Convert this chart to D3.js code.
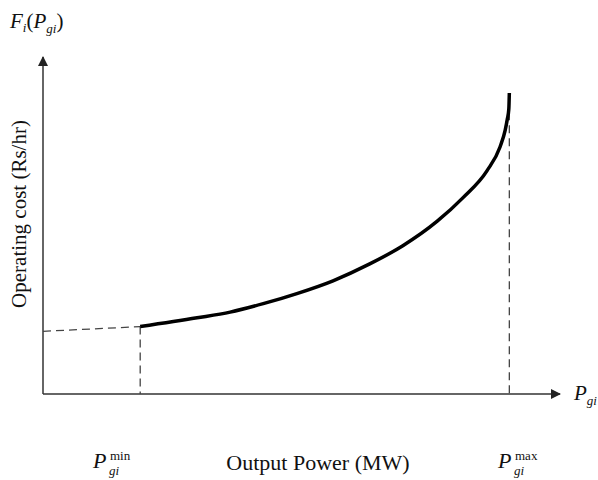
<!DOCTYPE html>
<html>
<head>
<meta charset="utf-8">
<script src="https://cdn.jsdelivr.net/npm/d3@7"></script>
<style>
  body { margin: 0; background: #fff; }
  text { font-family: "Liberation Serif", "Times New Roman", serif; fill: #111; }
</style>
</head>
<body>
<svg width="598" height="480"></svg>
<script>
  // cost curve, power and cost in relative units (0-100)
  const power = [18.8, 29.8, 36.2, 42.6, 49.1, 56.1, 63.2, 69.6, 76.2, 81.2, 85.9, 88.4, 89.4, 89.8, 90.1, 90.2];
  const cost  = [20.0, 22.6, 24.3, 26.8, 29.8, 33.6, 38.6, 44.0, 51.2, 58.2, 66.3, 73.3, 78.3, 81.5, 84.5, 89.3];
  const pMin = 18.8, pMax = 90.2;
  const belowMin = [[0, 18.6], [18.8, 20.0]];
  const maxDashTop = 87.5;

  const svg = d3.select('svg');
  const x = d3.scaleLinear().domain([0, 100]).range([43, 560]);
  const y = d3.scaleLinear().domain([0, 100]).range([394, 57]);

  svg.append('defs').append('marker')
      .attr('id', 'arr')
      .attr('viewBox', '0 0 10 10')
      .attr('refX', 9).attr('refY', 5)
      .attr('markerWidth', 10).attr('markerHeight', 10)
      .attr('markerUnits', 'userSpaceOnUse')
      .attr('orient', 'auto')
    .append('path')
      .attr('d', 'M0,0 L10,5 L0,10 Z')
      .attr('fill', '#222');

  // axes
  svg.append('line')
      .attr('x1', x(0)).attr('y1', y(0))
      .attr('x2', x(100)).attr('y2', y(0))
      .attr('stroke', '#333').attr('stroke-width', 1.5)
      .attr('marker-end', 'url(#arr)');
  svg.append('line')
      .attr('x1', x(0)).attr('y1', y(0))
      .attr('x2', x(0)).attr('y2', y(100))
      .attr('stroke', '#333').attr('stroke-width', 1.5)
      .attr('marker-end', 'url(#arr)');

  const line = d3.line()
      .x(d => x(d[0]))
      .y(d => y(d[1]));

  // dashed guides
  const dash = '8,5';
  svg.append('path')
      .attr('d', line(belowMin))
      .attr('fill', 'none').attr('stroke', '#444')
      .attr('stroke-width', 1.3).attr('stroke-dasharray', dash);
  svg.append('path')
      .attr('d', line([[pMin, cost[0]], [pMin, 0]]))
      .attr('fill', 'none').attr('stroke', '#444')
      .attr('stroke-width', 1.3).attr('stroke-dasharray', dash);
  svg.append('path')
      .attr('d', line([[pMax, maxDashTop], [pMax, 0]]))
      .attr('fill', 'none').attr('stroke', '#444')
      .attr('stroke-width', 1.3).attr('stroke-dasharray', dash);

  // cost curve
  svg.append('path')
      .attr('d', line.curve(d3.curveMonotoneX)(power.map((p, i) => [p, cost[i]])))
      .attr('fill', 'none').attr('stroke', '#000')
      .attr('stroke-width', 3.5).attr('stroke-linecap', 'butt');

  // labels
  const t1 = svg.append('text').attr('x', 10).attr('y', 28).attr('font-size', 21);
  t1.append('tspan').attr('font-style', 'italic').text('F');
  t1.append('tspan').attr('font-style', 'italic').attr('font-size', 13).attr('dy', 4).text('i');
  t1.append('tspan').attr('dy', -4).text('(');
  t1.append('tspan').attr('font-style', 'italic').text('P');
  t1.append('tspan').attr('font-style', 'italic').attr('font-size', 13).attr('dy', 5).text('gi');
  t1.append('tspan').attr('dy', -5).text(')');

  svg.append('text')
      .attr('transform', 'translate(26,214) rotate(-90)')
      .attr('text-anchor', 'middle')
      .attr('font-size', 21)
      .text('Operating cost (Rs/hr)');

  const t2 = svg.append('text').attr('x', 574).attr('y', 400).attr('font-size', 21);
  t2.append('tspan').attr('font-style', 'italic').text('P');
  t2.append('tspan').attr('font-style', 'italic').attr('font-size', 13).attr('dy', 5).text('gi');

  svg.append('text')
      .attr('x', 318).attr('y', 470)
      .attr('text-anchor', 'middle')
      .attr('font-size', 22)
      .text('Output Power (MW)');

  const sub = (px, label) => {
    svg.append('text').attr('x', px).attr('y', 468).attr('font-size', 22)
        .attr('font-style', 'italic').text('P');
    const xs = px + 17;
    svg.append('text').attr('x', xs).attr('y', 460).attr('font-size', 13).text(label);
    svg.append('text').attr('x', xs - 1).attr('y', 475).attr('font-size', 13)
        .attr('font-style', 'italic').text('gi');
  };
  sub(93, 'min');
  sub(498, 'max');
</script>
</body>
</html>
